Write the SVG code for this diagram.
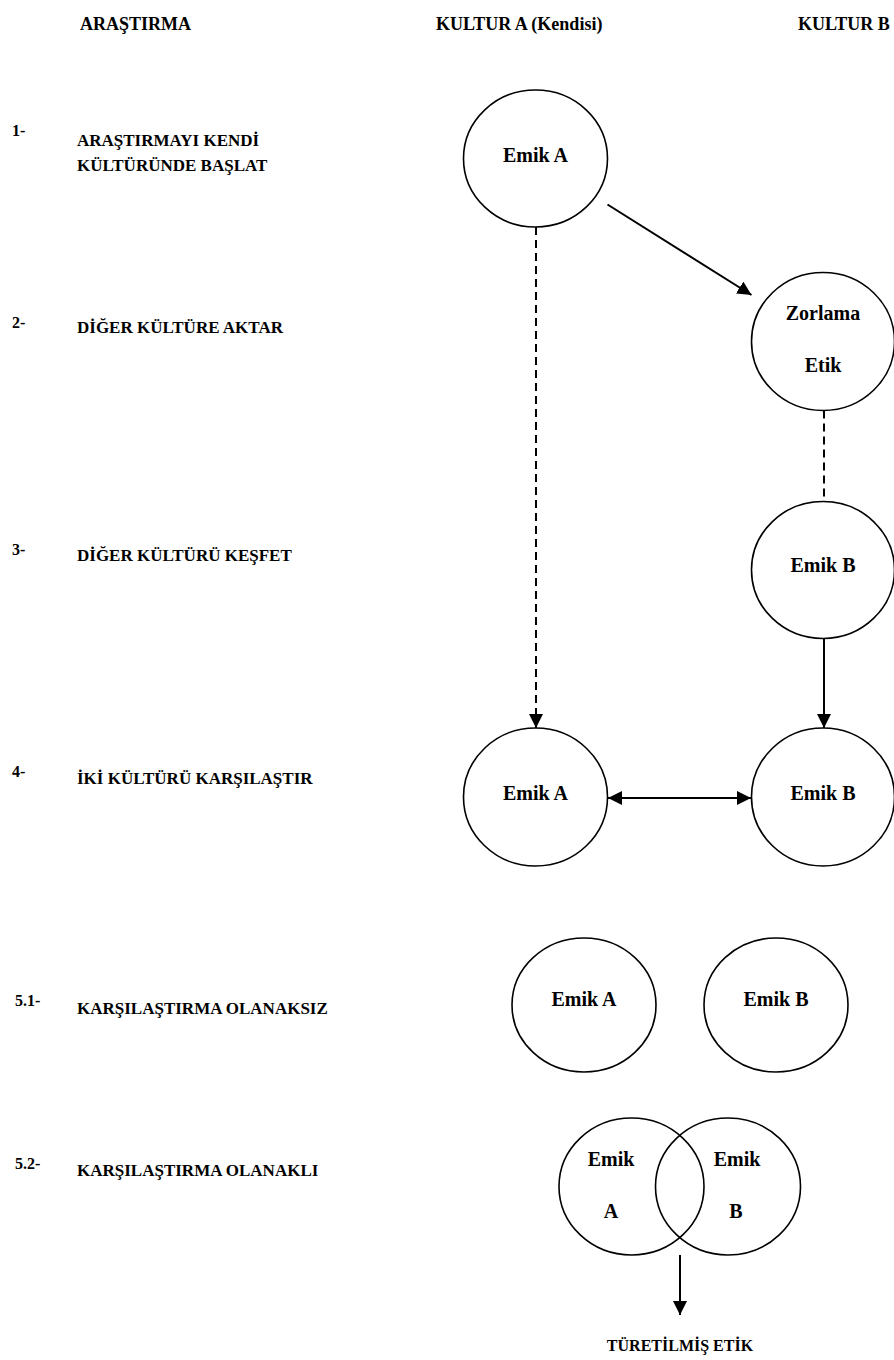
<svg xmlns="http://www.w3.org/2000/svg" width="894" height="1360" viewBox="0 0 894 1360">
<style>
text{font-family:'Liberation Serif','Times New Roman',serif;font-weight:700;fill:#000}
.h{font-size:18px}
.n{font-size:16px}
.l{font-size:17px}
.c{font-size:20px;text-anchor:middle}
.t{font-size:16px;text-anchor:middle}
.node ellipse{fill:none;stroke:#000;stroke-width:1.6}
.con line{stroke:#000;stroke-width:2;fill:none}
.dash{stroke-dasharray:8 5}
</style>
<defs>
<marker id="ah" markerUnits="userSpaceOnUse" markerWidth="15" markerHeight="15" refX="14" refY="7" orient="auto-start-reverse">
<path d="M0,0 L14,7 L0,14 z" fill="#000"/>
</marker>
</defs>
<rect width="894" height="1360" fill="#fff"/>
<g id="headers">
<text class="h" x="80" y="30">ARAŞTIRMA</text>
<text class="h" x="436" y="30">KULTUR A (Kendisi)</text>
<text class="h" x="798" y="30">KULTUR B</text>
</g>
<g id="steps">
<text class="n" x="12" y="136">1-</text>
<text class="l" x="77" y="146">ARAŞTIRMAYI KENDİ</text>
<text class="l" x="77" y="171">KÜLTÜRÜNDE BAŞLAT</text>
<text class="n" x="12" y="328">2-</text>
<text class="l" x="77" y="333">DİĞER KÜLTÜRE AKTAR</text>
<text class="n" x="12" y="555">3-</text>
<text class="l" x="77" y="561">DİĞER KÜLTÜRÜ KEŞFET</text>
<text class="n" x="12" y="777">4-</text>
<text class="l" x="77" y="784">İKİ KÜLTÜRÜ KARŞILAŞTIR</text>
<text class="n" x="15" y="1006">5.1-</text>
<text class="l" x="77" y="1014">KARŞILAŞTIRMA OLANAKSIZ</text>
<text class="n" x="15" y="1169">5.2-</text>
<text class="l" x="77" y="1176">KARŞILAŞTIRMA OLANAKLI</text>
</g>
<g id="node-emikA1" class="node">
<ellipse cx="535.5" cy="158.5" rx="72" ry="68.5"/>
<text class="c" x="535.5" y="162">Emik A</text>
</g>
<g id="node-zorlama" class="node">
<ellipse cx="823" cy="341.5" rx="71.5" ry="69"/>
<text class="c" x="823" y="320">Zorlama</text>
<text class="c" x="823" y="372">Etik</text>
</g>
<g id="node-emikB3" class="node">
<ellipse cx="823" cy="570" rx="71.5" ry="68.5"/>
<text class="c" x="823" y="572">Emik B</text>
</g>
<g id="node-emikA4" class="node">
<ellipse cx="535.5" cy="797" rx="72" ry="69"/>
<text class="c" x="535.5" y="800">Emik A</text>
</g>
<g id="node-emikB4" class="node">
<ellipse cx="823" cy="797" rx="71.5" ry="69"/>
<text class="c" x="823" y="800">Emik B</text>
</g>
<g id="node-emikA5" class="node">
<ellipse cx="584" cy="1005" rx="72" ry="67"/>
<text class="c" x="584" y="1006">Emik A</text>
</g>
<g id="node-emikB5" class="node">
<ellipse cx="776" cy="1005" rx="72" ry="67"/>
<text class="c" x="776" y="1006">Emik B</text>
</g>
<g id="node-vennA" class="node">
<ellipse cx="631.5" cy="1186.5" rx="72.5" ry="68.5"/>
<text class="c" x="611" y="1166">Emik</text>
<text class="c" x="611" y="1218">A</text>
</g>
<g id="node-vennB" class="node">
<ellipse cx="728" cy="1186.5" rx="72.5" ry="68.5"/>
<text class="c" x="737" y="1166">Emik</text>
<text class="c" x="736" y="1218">B</text>
</g>
<g id="node-turetilmis">
<text class="t" x="680" y="1351">TÜRETİLMİŞ ETİK</text>
</g>
<g id="connectors" class="con">
<line x1="607.5" y1="204.5" x2="751.5" y2="295" marker-end="url(#ah)"/>
<line class="dash" x1="536" y1="227" x2="536" y2="728" marker-end="url(#ah)"/>
<line class="dash" x1="824" y1="410.5" x2="824" y2="501.5"/>
<line x1="824" y1="638.5" x2="824" y2="728" marker-end="url(#ah)"/>
<line x1="608" y1="798" x2="751" y2="798" marker-start="url(#ah)" marker-end="url(#ah)"/>
<line x1="680" y1="1255" x2="680" y2="1315" marker-end="url(#ah)"/>
</g>
</svg>
